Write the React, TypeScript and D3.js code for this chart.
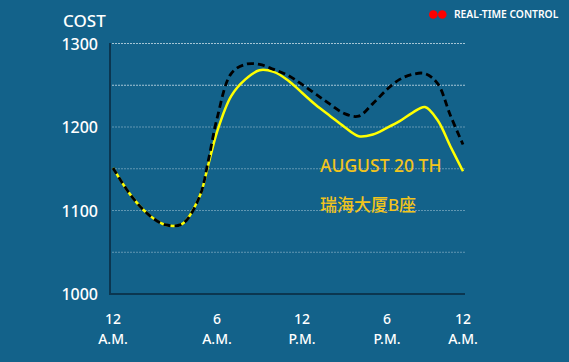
import * as d3 from 'd3';

const hours = [0, 1, 2, 3, 4, 5, 5.5, 6, 7, 8, 9, 10, 11, 12, 13, 14, 15, 16, 17, 18, 19, 20, 21, 22, 23, 24];
const todayCost = [1151, 1119, 1096, 1083, 1084, 1117, 1155, 1194, 1237, 1257, 1268, 1266, 1256, 1241, 1226, 1213, 1200, 1189, 1191, 1199, 1207, 1217, 1224, 1208, 1177, 1147];
const refCost = [1151, 1119, 1096, 1083, 1084, 1117, 1160, 1210, 1264, 1275, 1275, 1269, 1262, 1251, 1239, 1227, 1216, 1213, 1228, 1245, 1257, 1263, 1264, 1252, 1214, 1179];

const tickHours = [0, 6, 12, 18, 24];
const tickTop = ['12', '6', '12', '6', '12'];
const tickBottom = ['A.M.', 'A.M.', 'P.M.', 'P.M.', 'A.M.'];
const yTicks = [1000, 1100, 1200, 1300];
const gridValues = [1300, 1250, 1200, 1150, 1100, 1050];

const W = 569;
const H = 362;
const font = '"Noto Sans", "Noto Sans CJK SC", sans-serif';

export default function App() {
  // uneven spacing of the hour labels in the original
  const x = d3.scaleLinear().domain(tickHours).range([113, 217, 302, 387, 463]);
  const y = d3.scaleLinear().domain([1000, 1300]).range([294, 43.5]);

  const line = d3.line<number>()
    .x((_, i) => x(hours[i]))
    .y(d => y(d))
    .curve(d3.curveCatmullRom.alpha(0.5));

  return (
    <svg width={W} height={H} style={{ position: 'absolute', left: 0, top: 0, display: 'block' }} fontFamily={font}>
      <rect width={W} height={H} fill="#13628a" />

      {gridValues.map((v, i) => (
        <line key={v} x1={112} x2={465} y1={y(v)} y2={y(v)}
          stroke="#d6e6ef" strokeWidth={1} strokeDasharray="2,1"
          opacity={i < 2 ? 0.75 : 0.4} />
      ))}

      <line x1={110} x2={110} y1={43} y2={295} stroke="#0b3650" strokeWidth={2} />
      <line x1={109} x2={465} y1={294} y2={294} stroke="#0b3650" strokeWidth={2} />

      {yTicks.map(v => (
        <text key={v} x={98} y={y(v) + 6} textAnchor="end" fill="#fff" fontSize={16} fontWeight={500}>{v}</text>
      ))}
      <text x={63} y={26.7} fill="#fff" fontSize={17} fontWeight={500}>COST</text>

      {tickHours.map((h, i) => (
        <g key={i} fill="#fff" fontSize={14} fontWeight={500} textAnchor="middle">
          <text x={x(h)} y={323.5}>{tickTop[i]}</text>
          <text x={x(h)} y={343.5}>{tickBottom[i]}</text>
        </g>
      ))}

      <path d={line(todayCost) ?? ''} fill="none" stroke="#ffff00" strokeWidth={2.5} />
      <path d={line(refCost) ?? ''} fill="none" stroke="#000" strokeWidth={2.8} strokeDasharray="7,4" />

      <text x={320} y={171.5} fill="#f2c41c" fontSize={17.5} fontWeight={500}>AUGUST 20 TH</text>
      <text x={320} y={211} fill="#f2c41c" fontSize={17} fontWeight={500}>瑞海大厦B座</text>

      <circle cx={433.3} cy={14.5} r={4.3} fill="#ff0000" />
      <circle cx={442.3} cy={14.5} r={4.3} fill="#ff0000" />
      <text x={454} y={18.3} fill="#fff" fontSize={10.3} fontWeight={600}>REAL-TIME CONTROL</text>
    </svg>
  );
}
